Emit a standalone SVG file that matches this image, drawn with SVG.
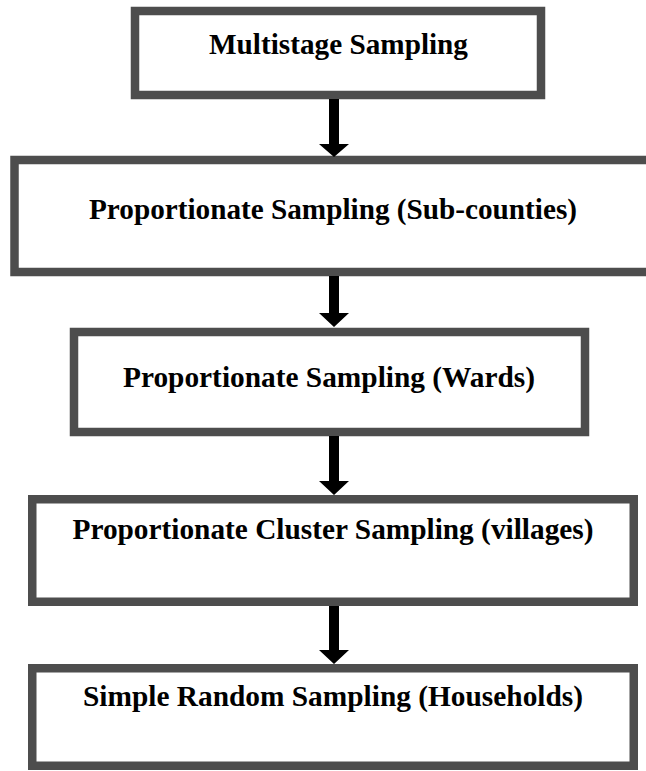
<svg xmlns="http://www.w3.org/2000/svg" width="646" height="771" viewBox="0 0 646 771">
<style>
.box{fill:#ffffff;stroke:#4d4d4d;stroke-width:8.5}
.lbl{font-family:"Liberation Serif","Times New Roman",serif;font-weight:bold;font-size:29.5px;fill:#000;text-anchor:middle}
.arr{fill:#000}
</style>
<rect width="646" height="771" fill="#ffffff"/>
<g id="node-multistage">
<rect class="box" x="135" y="11" width="406" height="84"/>
<text class="lbl" x="338.5" y="54" textLength="259" lengthAdjust="spacingAndGlyphs">Multistage Sampling</text>
</g>
<g id="node-subcounties">
<rect class="box" x="14.5" y="160" width="660" height="112"/>
<text class="lbl" x="333" y="219" textLength="488" lengthAdjust="spacingAndGlyphs">Proportionate Sampling (Sub-counties)</text>
</g>
<g id="node-wards">
<rect class="box" x="74" y="332" width="511" height="100"/>
<text class="lbl" x="329" y="387" textLength="412" lengthAdjust="spacingAndGlyphs">Proportionate Sampling (Wards)</text>
</g>
<g id="node-villages">
<rect class="box" x="32.25" y="499.25" width="601.5" height="102.5"/>
<text class="lbl" x="333" y="539" textLength="521" lengthAdjust="spacingAndGlyphs">Proportionate Cluster Sampling (villages)</text>
</g>
<g id="node-households">
<rect class="box" x="32.25" y="668.25" width="601.5" height="97.5"/>
<text class="lbl" x="333" y="706" textLength="500" lengthAdjust="spacingAndGlyphs">Simple Random Sampling (Households)</text>
</g>
<g id="connectors">
<polygon class="arr" points="329,99 339,99 339,144 349,144 334,157 319,144 329,144"/>
<polygon class="arr" points="329,276 339,276 339,313 349,313 334,327 319,313 329,313"/>
<polygon class="arr" points="329,436 339,436 339,481 349,481 334,495 319,481 329,481"/>
<polygon class="arr" points="329,606 339,606 339,650 349,650 334,664 319,650 329,650"/>
</g>
</svg>
